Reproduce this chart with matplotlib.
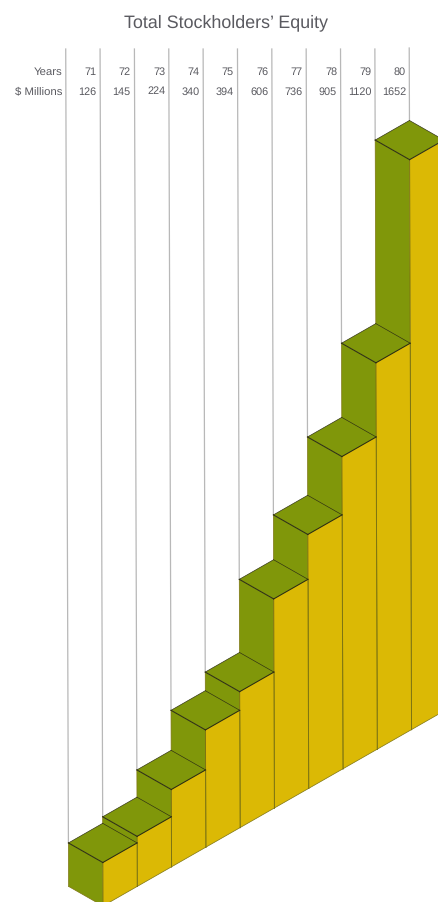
import matplotlib
matplotlib.use("Agg")
import matplotlib.pyplot as plt
from matplotlib.patches import Polygon

plt.rcParams['font.family'] = ['Liberation Sans', 'DejaVu Sans']
plt.rcParams['text.hinting'] = 'none'

years = ["71", "72", "73", "74", "75", "76", "77", "78", "79", "80"]
millions = [126, 145, 224, 340, 394, 606, 736, 905, 1120, 1652]

GREEN = "#80970a"
YELLOW = "#dbb905"
EDGE = "#2c2c14"
SOFT_EDGE = "#7d7412"
GRID = "#b8b8b8"
TEXT = "#5a5a60"

# drawing scale, in pixels
STEP = 34.35
DY = 19.6
PX_PER_MILLION = 0.345
BASE_Y = 907.0
LEAN = 0.0034   # the verticals lean a little to the right going down


def project(x, y):
    return (x + LEAN * (y - 500), y)


def front_x(i):
    return 101.6 + STEP * i


def bar_points(i, value):
    x = front_x(i)
    base = BASE_Y - DY * i
    top = base - value * PX_PER_MILLION
    pts = {
        "front": (x, top),
        "left": (x - STEP, top - DY),
        "back": (x, top - 2 * DY),
        "right": (x + STEP, top - DY),
        "base_front": (x, base),
        "base_left": (x - STEP, base - DY),
        "base_right": (x + STEP, base - DY),
    }
    return {k: project(*v) for k, v in pts.items()}


fig = plt.figure(figsize=(4.39, 9.03), dpi=100)
ax = fig.add_axes([0, 0, 1, 1])
ax.set_xlim(0, 439)
ax.set_ylim(903, 0)
ax.axis("off")

# guide lines from the header down to each bar
for i, value in enumerate(millions):
    p = bar_points(i, value)
    tx, ty = project(front_x(i) - STEP, 50)
    ax.plot([tx, p["left"][0]], [ty, p["left"][1]], color=GRID, lw=0.9, zorder=1)
p = bar_points(9, millions[9])
tx, ty = project(front_x(9), 49)
ax.plot([tx, p["back"][0]], [ty, p["back"][1]], color=GRID, lw=0.9, zorder=1)

# back to front so nearer bars cover the ones behind
for i in range(len(millions) - 1, -1, -1):
    p = bar_points(i, millions[i])
    z = 10 + (len(millions) - i)

    ax.add_patch(Polygon([p["left"], p["front"], p["base_front"], p["base_left"]],
                         closed=True, fc=GREEN, ec="none", zorder=z))
    ax.add_patch(Polygon([p["front"], p["right"], p["base_right"], p["base_front"]],
                         closed=True, fc=YELLOW, ec="none", zorder=z))
    ax.add_patch(Polygon([p["left"], p["back"], p["right"], p["front"]],
                         closed=True, fc=GREEN, ec="none", zorder=z))

    # thin outlines
    for a, b in [("base_left", "base_front"), ("base_front", "base_right"),
                 ("left", "base_left")]:
        ax.plot([p[a][0], p[b][0]], [p[a][1], p[b][1]], color=SOFT_EDGE, lw=0.5, zorder=z)
    for a, b in [("front", "base_front"), ("right", "base_right")]:
        ax.plot([p[a][0], p[b][0]], [p[a][1], p[b][1]], color=SOFT_EDGE, lw=0.7, zorder=z)
    for a, b in [("left", "back"), ("back", "right")]:
        ax.plot([p[a][0], p[b][0]], [p[a][1], p[b][1]], color=EDGE, lw=0.45, zorder=z)
    # heavier front edges of the top face
    for a, b in [("left", "front"), ("front", "right")]:
        ax.plot([p[a][0], p[b][0]], [p[a][1], p[b][1]], color=EDGE, lw=0.75, zorder=z)

ax.text(226, 27.5, "Total Stockholders\u2019 Equity", ha="center", va="baseline",
        fontsize=12.9, color=TEXT)
ax.text(62.5, 75, "Years", ha="right", va="baseline", fontsize=8.2, color=TEXT)
ax.text(62.5, 94.5, "$ Millions", ha="right", va="baseline", fontsize=8.2, color=TEXT)

for i, (yr, val) in enumerate(zip(years, millions)):
    right = 96.3 + 34.4 * i
    ax.text(right, 75, yr, ha="right", va="baseline", fontsize=7.8, color=TEXT)
    ax.text(right, 94.5, str(val), ha="right", va="baseline", fontsize=7.8, color=TEXT)

fig.savefig("out.png", dpi=100, facecolor="white")
